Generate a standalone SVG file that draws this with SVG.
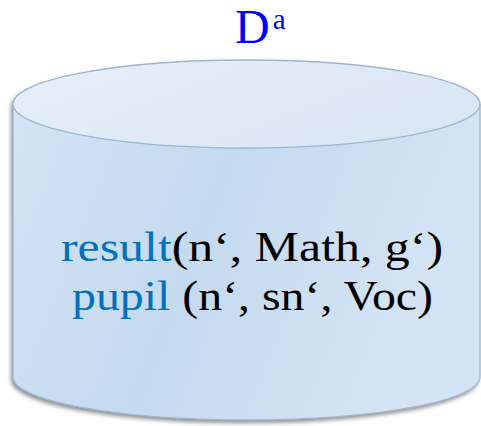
<svg xmlns="http://www.w3.org/2000/svg" width="481" height="426" viewBox="0 0 481 426">
<defs>
<linearGradient id="body" x1="0" y1="0" x2="1" y2="0.3">
<stop offset="0" stop-color="#D4E4F5"/>
<stop offset="0.5" stop-color="#C4DAEF"/>
<stop offset="1" stop-color="#D5E4F4"/>
</linearGradient>
<linearGradient id="top" x1="0" y1="0" x2="1" y2="0.5">
<stop offset="0" stop-color="#E7F0F9"/>
<stop offset="1" stop-color="#D9E6F4"/>
</linearGradient>
<filter id="sh" x="-10%" y="-10%" width="120%" height="125%">
<feDropShadow dx="-2" dy="3" stdDeviation="2" flood-color="#000" flood-opacity="0.45"/>
</filter>
<style>
.t{font-family:"Liberation Serif","DejaVu Serif",serif;font-size:42px;fill:#000}
.b{fill:#0070C0}
.s{fill:none;stroke:#9DB7D0;stroke-width:1.3}
</style>
</defs>
<g id="title">
<text x="235" y="43" font-family="Liberation Serif, serif" font-size="48" fill="#0000FF">D<tspan dx="3" dy="-14" font-size="29">a</tspan></text>
</g>
<g id="cylinder">
<path d="M13,104 L13,377 A233.5,43 0 0 0 480,377 L480,104 A233.5,44 0 0 0 13,104 Z" fill="url(#body)" filter="url(#sh)"/>
<path class="s" d="M13,104 L13,377 A233.5,43 0 0 0 480,377 L480,104"/>
<ellipse cx="246.5" cy="104" rx="233.5" ry="44" fill="url(#top)" class="s" style="fill:url(#top)"/>
<text class="t" x="61" y="261" textLength="382" lengthAdjust="spacingAndGlyphs"><tspan class="b">result</tspan>(n‘, Math, g‘)</text>
<text class="t" x="72" y="310" textLength="361" lengthAdjust="spacingAndGlyphs"><tspan class="b">pupil</tspan> (n‘, sn‘, Voc)</text>
</g>
</svg>
